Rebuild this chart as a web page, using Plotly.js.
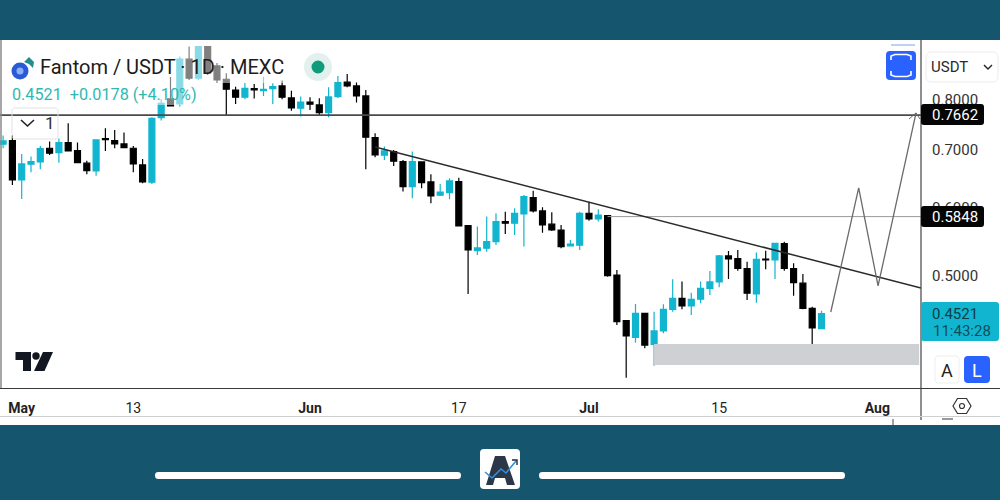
<!DOCTYPE html>
<html><head><meta charset="utf-8">
<script src="https://cdn.plot.ly/plotly-3.0.1.min.js"></script>
<style>html,body{margin:0;padding:0;background:#fff}#c{width:1000px;height:500px}</style>
</head><body><div id="c"></div>
<script>
const dates = ["2024-04-29","2024-04-30","2024-05-01","2024-05-02","2024-05-03","2024-05-04","2024-05-05","2024-05-06","2024-05-07","2024-05-08","2024-05-09","2024-05-10","2024-05-11","2024-05-12","2024-05-13","2024-05-14","2024-05-15","2024-05-16","2024-05-17","2024-05-18","2024-05-19","2024-05-20","2024-05-21","2024-05-22","2024-05-23","2024-05-24","2024-05-25","2024-05-26","2024-05-27","2024-05-28","2024-05-29","2024-05-30","2024-05-31","2024-06-01","2024-06-02","2024-06-03","2024-06-04","2024-06-05","2024-06-06","2024-06-07","2024-06-08","2024-06-09","2024-06-10","2024-06-11","2024-06-12","2024-06-13","2024-06-14","2024-06-15","2024-06-16","2024-06-17","2024-06-18","2024-06-19","2024-06-20","2024-06-21","2024-06-22","2024-06-23","2024-06-24","2024-06-25","2024-06-26","2024-06-27","2024-06-28","2024-06-29","2024-06-30","2024-07-01","2024-07-02","2024-07-03","2024-07-04","2024-07-05","2024-07-06","2024-07-07","2024-07-08","2024-07-09","2024-07-10","2024-07-11","2024-07-12","2024-07-13","2024-07-14","2024-07-15","2024-07-16","2024-07-17","2024-07-18","2024-07-19","2024-07-20","2024-07-21","2024-07-22","2024-07-23","2024-07-24","2024-07-25","2024-07-26"];
const opens = [.7111,.7180,.6463,.6741,.6782,.7035,.6953,.7142,.6990,.6759,.6621,.7218,.7180,.7117,.7035,.6728,.6424,.7634,.8027,.7920,.8927,.8483,.95,.8766,.8460,.8220,.8063,.8249,.8205,.8249,.8310,.8048,.7829,.7956,.7899,.7738,.8076,.8393,.8310,.8091,.7238,.6905,.6972,.6787,.6349,.6782,.6429,.6205,.6248,.6434,.5720,.5350,.5385,.5480,.5782,.5757,.5902,.6165,.5949,.5742,.5654,.5418,.5428,.5913,.5824,.5875,.5013,.4437,.4244,.4525,.4165,.4317,.4574,.4710,.4615,.4698,.4838,.4921,.5275,.5236,.5098,.4765,.5232,.5218,.5451,.5098,.4904,.4586,.4343];
const highs = [.7277,.7277,.6929,.6879,.7079,.7161,.7221,.7522,.7142,.6805,.7193,.7422,.7388,.7335,.7079,.6836,.7643,.8027,.8513,.8989,.9233,.98,.97,.8838,.8596,.8294,.8378,.8355,.8519,.8371,.8429,.8205,.8076,.8063,.8042,.8281,.8535,.8580,.8384,.8220,.7324,.7066,.7003,.6818,.6972,.6787,.6563,.6395,.6493,.6503,.5720,.5705,.5860,.5913,.5938,.5992,.6210,.6281,.6010,.5929,.5731,.5505,.5938,.6099,.5976,.5886,.5080,.4437,.4639,.4533,.4545,.4636,.4956,.4925,.4782,.4925,.5067,.5289,.5346,.5360,.5195,.5322,.5350,.5466,.5480,.5172,.5027,.4606,.4557];
const lows = [.7035,.6378,.6144,.6598,.6651,.6910,.6769,.6972,.6759,.6563,.6538,.6985,.7035,.7035,.6598,.6407,.6395,.7574,.7878,.7863,.8445,.8445,.8558,.8378,.7690,.7920,.8020,.8033,.8091,.7920,.8020,.7779,.7656,.7793,.7690,.7643,.8048,.8281,.7948,.6651,.6868,.6818,.6710,.6265,.6155,.6322,.6074,.6193,.6139,.5705,.4765,.5289,.5336,.5432,.5594,.5580,.5408,.5923,.5614,.5640,.5385,.5408,.5360,.5797,.5782,.4991,.4387,.3810,.4183,.4121,.3934,.4290,.4545,.4574,.4505,.4648,.4752,.4851,.4960,.5071,.4689,.4655,.5090,.4960,.5071,.4744,.4574,.4157,.4336];
const closes = [.7174,.6463,.6746,.6787,.7028,.6942,.7142,.6985,.6769,.6626,.7193,.7199,.7117,.7047,.6746,.6429,.7622,.7931,.7878,.8927,.8483,.96,.8603,.8445,.8236,.8063,.8258,.8220,.8236,.8294,.8063,.7835,.7956,.7914,.7738,.8070,.8384,.8310,.8091,.7246,.6910,.6985,.6795,.6349,.6787,.6417,.6193,.6255,.6446,.5716,.5360,.5389,.5480,.5782,.5757,.5913,.6182,.5949,.5731,.5654,.5408,.5443,.5913,.5824,.5882,.5004,.4425,.4259,.4525,.4157,.4317,.4574,.4710,.4615,.4698,.4838,.4921,.5275,.5232,.5103,.4774,.5228,.5218,.5457,.5103,.4912,.4586,.4351,.4521];

const tickDates = ["2024-05-01","2024-05-13","2024-06-01","2024-06-17","2024-07-01","2024-07-15","2024-08-01"];
const tickLabels = ["<b>May</b>","13","<b>Jun</b>","17","<b>Jul</b>","15","<b>Aug</b>"];
const priceTicks = [0.5,0.6,0.7,0.8];
const priceTickLabels = ["0.5000","0.6000","0.7000","0.8000"];
const resistanceX = ["2024-04-28","2024-08-06"];
const resistanceY = [0.7685,0.7685];
const supportX = ["2024-07-03","2024-08-06"];
const supportY = [0.586,0.586];
const trendX = ["2024-06-08 00:00","2024-08-05 16:48"];
const trendY = [0.7060,0.4842];
const projX = ["2024-07-27","2024-07-30","2024-08-01 02:00","2024-08-05 04:00"];
const projY = [0.4541,0.6327,0.4868,0.7731];
const arrowX = ["2024-08-04 10:00","2024-08-05 04:00","2024-08-05 14:00"];
const arrowY = [0.7608,0.7731,0.7608];
const zoneX = ["2024-07-08","2024-08-05 12:00","2024-08-05 12:00","2024-07-08"];
const zoneY = [0.4168,0.4168,0.3941,0.3941];

const TEAL = "#12b5cf", BAND = "#15556e", INK = "#131722", BLUE = "#2962ff";
const L = 921, T = 46, B = 388;
const fx = p => p / L, fy = p => (B - p) / (B - T);
const rect = (x0,y0,x1,y1,fill,line,layer) => ({type:"rect",xref:"paper",yref:"paper",x0:fx(x0),x1:fx(x1),y0:fy(y0),y1:fy(y1),fillcolor:fill,line:{width:line?1:0,color:line||fill},layer:layer||"above"});
const circle = (cx,cy,r,fill) => ({type:"circle",xref:"paper",yref:"paper",x0:fx(cx-r),x1:fx(cx+r),y0:fy(cy-r),y1:fy(cy+r),fillcolor:fill,line:{width:0},layer:"above"});
const hline = (x0,x1,y,c,w) => ({type:"line",xref:"paper",yref:"paper",x0:fx(x0),x1:fx(x1),y0:fy(y),y1:fy(y),line:{color:c,width:w||1},layer:"above"});
const vline = (x,y0,y1,c,w) => ({type:"line",xref:"paper",yref:"paper",x0:fx(x),x1:fx(x),y0:fy(y0),y1:fy(y1),line:{color:c,width:w||1},layer:"above"});
const poly = (pts,fill,stroke,w,closed) => ({type:"path",xref:"paper",yref:"paper",path:"M"+pts.map(p=>fx(p[0]).toFixed(5)+","+fy(p[1]).toFixed(5)).join("L")+(closed===false?"":"Z"),fillcolor:fill||"rgba(0,0,0,0)",line:{color:stroke||fill,width:w||0},layer:"above"});
function rr(x0,y0,x1,y1,r,fill,stroke){
  const k=r*0.3;
  const s=(x,y)=>fx(x).toFixed(5)+","+fy(y).toFixed(5);
  const d="M"+s(x0+r,y0)+"L"+s(x1-r,y0)+"C"+s(x1-k,y0)+" "+s(x1,y0+k)+" "+s(x1,y0+r)+"L"+s(x1,y1-r)+"C"+s(x1,y1-k)+" "+s(x1-k,y1)+" "+s(x1-r,y1)+"L"+s(x0+r,y1)+"C"+s(x0+k,y1)+" "+s(x0,y1-k)+" "+s(x0,y1-r)+"L"+s(x0,y0+r)+"C"+s(x0,y0+k)+" "+s(x0+k,y0)+" "+s(x0+r,y0)+"Z";
  return {type:"path",xref:"paper",yref:"paper",path:d,fillcolor:fill||"rgba(0,0,0,0)",line:{color:stroke||fill,width:stroke?1:0},layer:"above"};
}
const txt = (x,y,text,size,color,anchor,font) => ({xref:"paper",yref:"paper",x:fx(x),y:fy(y),text,showarrow:false,xanchor:anchor||"left",yanchor:"middle",borderpad:0,font:{family:font||"Roboto",size,color}});

const lineTrace = (x,y,color,width) => ({type:"scatter",mode:"lines",x,y,line:{color,width},hoverinfo:"skip",showlegend:false});

const traces = [
  {type:"scatter",mode:"lines",x:zoneX,y:zoneY,fill:"toself",fillcolor:"#cfd0d4",line:{width:0},hoverinfo:"skip",showlegend:false},
  {type:"candlestick",x:dates,open:opens,high:highs,low:lows,close:closes,showlegend:false,whiskerwidth:0,
   increasing:{line:{color:TEAL,width:1.2},fillcolor:TEAL},
   decreasing:{line:{color:"#000000",width:1.2},fillcolor:"#000000"}},
  lineTrace(resistanceX,resistanceY,"#4a4a4a",1.8),
  lineTrace(supportX,supportY,"#9a9a9a",1),
  lineTrace(trendX,trendY,"#2a2a2a",1.5),
  lineTrace(projX,projY,"#6a6a6a",1.3),
  lineTrace(arrowX,arrowY,"#6a6a6a",1)
];

const shapes = [
  rect(0,0,1000,40,BAND),
  rect(0,425,1000,500,BAND),
  rect(0,40,921,46,"#ffffff"),
  rect(10,46,285,83,"rgba(255,255,255,0.5)"),
  rect(10,83,196,105,"rgba(255,255,255,0.5)"),
  vline(1,40,388,"#8a8a8a",1.5),
  vline(921,40,420,"#444444",1.2),
  hline(0,1000,388.5,"#3a3a3a",1.2),
  hline(0,1000,416.5,"#cfcfcf",1),
  vline(893,419,425,"#444444",1),
  hline(942,953,419,"#555555",1.2),
  hline(891,915,45,"#7f9fe8",1),
  rr(921,104,984,125,3,"#050505"),
  rr(921,206,984,227,3,"#050505"),
  rr(921,302,999,341,3,TEAL),
  rr(926,52,998,82,6,"#ffffff","#ececec"),
  rr(886,51,916,80,4,BLUE),
  poly([[891,60],[891,56],[895,54.5],[907,54.5],[911,56],[911,60]],null,"#ffffff",1.6,false),
  poly([[891,71],[891,75],[895,76.5],[907,76.5],[911,75],[911,71]],null,"#ffffff",1.6,false),
  rr(935,356,959,383,4,"#ffffff","#eeeeee"),
  rr(964,356,990,383,4,BLUE),
  rr(12,108,58,139,3,null,"#e2e2e2"),
  poly([[21,120],[27.5,126],[34,120]],null,"#222222",1.6,false),
  poly([[984,65],[988,69],[992,65]],null,"#222222",1.4,false),
  poly([[953,406],[957.5,398.5],[966.5,398.5],[971,406],[966.5,413.5],[957.5,413.5]],null,"#333333",1.2),
  {type:"circle",xref:"paper",yref:"paper",x0:fx(959.5),x1:fx(964.5),y0:fy(403.5),y1:fy(408.5),line:{color:"#333333",width:1.2},layer:"above"},
  circle(318,67,14,"#e2f1ee"),
  circle(318,67,6.5,"#0f9b7c"),
  circle(20,71,8.5,"#2a5bd7"),
  circle(20,71,3.5,"#8fb0ee"),
  poly([[24,62],[29,57],[34,62],[33,68],[29,64]],"#1f8f8c"),
  poly([[15.5,352],[31,352],[31,371],[23,371],[23,360],[15.5,360]],INK),
  circle(36,356,3.7,INK),
  poly([[43,352],[53,352],[44.5,371],[34,371]],INK),
  rr(155,472,461,479,3.5,"#ffffff"),
  rr(539,472,845,479,3.5,"#ffffff"),
  rr(480,449,520,489,4,"#ffffff"),
  poly([[486,485],[495,456],[505,456],[515,485],[507,485],[505,478],[495,478],[493,485]],"#2c3848"),
  poly([[485,472],[492,478],[501,469],[506,473],[516,461]],null,"#2f8fe0",1.6,false),
  poly([[512,460],[517,460],[517,465]],null,"#1e2a38",1.4,false)
];

const annotations = [
  txt(38.5,67,"Fantom / USDT · 1D · MEXC",20,"#1c1c1c"),
  txt(10.5,94,"0.4521&nbsp;&nbsp;+0.0178 (+4.10%)",16.2,"#2fb8b2"),
  txt(44,123,"1",17,"#333333"),
  txt(930,67,"USDT",15,"#2a2a2a"),
  txt(931,115,"0.7662",15,"#ffffff"),
  txt(931,217,"0.5848",15,"#ffffff"),
  txt(931,314,"0.4521",15,"#0b3d46"),
  txt(932,331,"11:43:28",15,"#0b4f5c"),
  txt(947,370,"A",18,"#222222","center"),
  txt(977,370,"L",18,"#ffffff","center")
];

const layout = {
  width:1000,height:500,autosize:false,
  margin:{l:0,r:79,t:46,b:112,pad:0},
  paper_bgcolor:"#ffffff",plot_bgcolor:"#ffffff",
  font:{family:"Roboto",color:"#2a2a2a"},
  showlegend:false,dragmode:false,
  boxgap:0.36,boxgroupgap:0,
  xaxis:{type:"date",range:["2024-04-28 16:00","2024-08-05 16:48"],rangeslider:{visible:false},
    tickmode:"array",tickvals:tickDates,ticktext:tickLabels,showgrid:false,zeroline:false,showline:false,
    ticks:"outside",ticklen:7,tickcolor:"rgba(0,0,0,0)",tickfont:{family:"Roboto",size:14,color:"#222222"}},
  yaxis:{type:"log",side:"right",range:[Math.log10(0.3706),Math.log10(0.9246)],
    tickmode:"array",tickvals:priceTicks,ticktext:priceTickLabels,showgrid:false,zeroline:false,showline:false,
    ticks:"outside",ticklen:7,tickcolor:"rgba(0,0,0,0)",tickfont:{family:"Roboto",size:15,color:"#333333"}},
  shapes,annotations
};
Plotly.newPlot("c",traces,layout,{displayModeBar:false,staticPlot:true});
</script></body></html>
